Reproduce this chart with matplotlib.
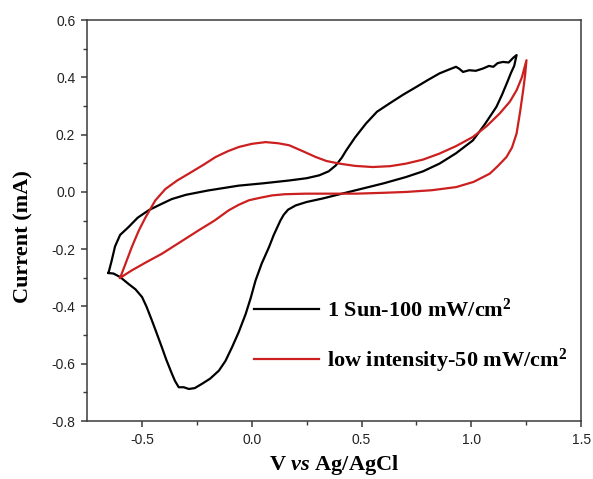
import matplotlib
matplotlib.use("Agg")
import matplotlib.pyplot as plt
from matplotlib.ticker import MultipleLocator, FixedLocator

# ---- data ----
sun_v = [-0.653, -0.64, -0.623, -0.6, -0.562, -0.52, -0.47, -0.42, -0.365, -0.3, -0.2, -0.06, 0.05, 0.17,
         0.25, 0.307, 0.35, 0.383, 0.41, 0.43, 0.47, 0.52, 0.57, 0.627, 0.69, 0.75, 0.8, 0.855, 0.9, 0.93,
         0.945, 0.962, 0.99, 1.02, 1.053, 1.08, 1.1, 1.12, 1.144, 1.17, 1.19, 1.206,
         1.195, 1.18, 1.167, 1.14, 1.114, 1.06, 1.007, 0.93, 0.855, 0.78, 0.702, 0.6, 0.474, 0.4, 0.322,
         0.25, 0.2, 0.165, 0.145, 0.13, 0.1, 0.078, 0.045, 0.017, -0.005, -0.028, -0.06, -0.09, -0.12,
         -0.15, -0.19, -0.227, -0.26, -0.287, -0.31, -0.333, -0.35, -0.364, -0.39, -0.41, -0.435, -0.455,
         -0.48, -0.5, -0.53, -0.562, -0.6, -0.63, -0.653]
sun_i = [-0.283, -0.245, -0.19, -0.15, -0.123, -0.09, -0.064, -0.045, -0.025, -0.01, 0.005, 0.022, 0.03, 0.04,
         0.048, 0.058, 0.072, 0.093, 0.12, 0.145, 0.19, 0.239, 0.28, 0.309, 0.34, 0.367, 0.39, 0.414, 0.428, 0.437,
         0.43, 0.419, 0.425, 0.423, 0.431, 0.44, 0.437, 0.45, 0.454, 0.452, 0.468, 0.478,
         0.44, 0.415, 0.39, 0.34, 0.297, 0.235, 0.18, 0.135, 0.099, 0.072, 0.052, 0.03, 0.006, -0.008, -0.023,
         -0.035, -0.047, -0.062, -0.08, -0.1, -0.15, -0.193, -0.25, -0.309, -0.37, -0.426, -0.49, -0.542, -0.59,
         -0.624, -0.652, -0.67, -0.685, -0.688, -0.682, -0.682, -0.66, -0.635, -0.585, -0.542, -0.49, -0.449,
         -0.4, -0.367, -0.34, -0.321, -0.297, -0.285, -0.283]

low_v = [-0.6, -0.575, -0.547, -0.515, -0.485, -0.44, -0.394, -0.34, -0.287, -0.22, -0.165, -0.11, -0.059, 0.0,
         0.063, 0.12, 0.17, 0.23, 0.291, 0.34, 0.398, 0.47, 0.55, 0.63, 0.703, 0.78, 0.855, 0.93, 1.007, 1.07,
         1.129, 1.175, 1.206, 1.23, 1.251,
         1.245, 1.236, 1.222, 1.206, 1.185, 1.16, 1.12, 1.084, 1.01, 0.931, 0.82, 0.703, 0.6, 0.474, 0.35, 0.245,
         0.15, 0.093, 0.04, -0.013, -0.06, -0.105, -0.17, -0.242, -0.33, -0.41, -0.48, -0.547, -0.6]
low_i = [-0.3, -0.25, -0.193, -0.135, -0.09, -0.03, 0.01, 0.04, 0.064, 0.095, 0.122, 0.142, 0.157, 0.168,
         0.174, 0.17, 0.163, 0.143, 0.122, 0.108, 0.099, 0.091, 0.087, 0.09, 0.099, 0.113, 0.134, 0.16, 0.192, 0.23,
         0.274, 0.315, 0.355, 0.4, 0.46,
         0.41, 0.355, 0.28, 0.204, 0.155, 0.122, 0.09, 0.064, 0.035, 0.017, 0.006, 0.0, -0.003, -0.006, -0.006, -0.006,
         -0.008, -0.012, -0.02, -0.029, -0.045, -0.064, -0.1, -0.134, -0.177, -0.216, -0.245, -0.274, -0.3]

series_labels = [r"1 Sun-100 mW/cm$^{\mathbf{2}}$", r"low intensity-50 mW/cm$^{\mathbf{2}}$"]
x_ticks = [-0.5, 0.0, 0.5, 1.0, 1.5]
x_tick_labels = ["-0.5", "0.0", "0.5", "1.0", "1.5"]
y_ticks = [-0.8, -0.6, -0.4, -0.2, 0.0, 0.2, 0.4, 0.6]
y_tick_labels = ["-0.8", "-0.6", "-0.4", "-0.2", "0.0", "0.2", "0.4", "0.6"]

plt.rcParams["mathtext.fontset"] = "custom"
plt.rcParams["mathtext.rm"] = "Liberation Serif:bold"
plt.rcParams["mathtext.bf"] = "Liberation Serif:bold"
plt.rcParams["mathtext.it"] = "Liberation Serif:bold:italic"

fig = plt.figure(figsize=(5.93, 4.79), dpi=100)
ax = fig.add_axes([0.147, 0.121, 0.833, 0.837])

ax.plot(sun_v, sun_i, color="black", lw=1.6, label=series_labels[0])
ax.plot(low_v, low_i, color="#cc1f1f", lw=1.6, label=series_labels[1])

ax.set_xlim(-0.75, 1.5)
ax.set_ylim(-0.8, 0.6)
ax.set_xticks(x_ticks)
ax.set_xticklabels(x_tick_labels)
ax.set_yticks(y_ticks)
ax.set_yticklabels(y_tick_labels)
ax.xaxis.set_minor_locator(FixedLocator([-0.25, 0.25, 0.75, 1.25]))
ax.yaxis.set_minor_locator(MultipleLocator(0.1))

spine_col = "#3a3a3a"
for s in ax.spines.values():
    s.set_color(spine_col)
    s.set_linewidth(1.1)
ax.tick_params(which="both", direction="out", colors=spine_col, top=False, right=False)
ax.tick_params(which="major", length=4.5, width=1.1, labelsize=10, labelcolor="#222222", pad=4)
ax.tick_params(which="minor", length=3, width=1.0)
for lab in ax.get_xticklabels() + ax.get_yticklabels():
    lab.set_family("Liberation Sans")

ax.set_xlabel(r"V $\mathit{vs}$ Ag/AgCl", fontsize=16, fontweight="bold",
              family="Liberation Serif")
ax.set_ylabel("Current (mA)", fontsize=16, fontweight="bold",
              family="Liberation Serif")
ax.xaxis.set_label_coords(0.5, -0.08)
ax.yaxis.set_label_coords(-0.108, 0.46)

leg = ax.legend(loc="upper left", bbox_to_anchor=(0.298, 0.356), frameon=False,
                prop={"family": "Liberation Serif", "weight": "bold", "size": 16},
                handlelength=2.9, handletextpad=0.35, labelspacing=1.15)

fig.savefig("out.png", dpi=100)
